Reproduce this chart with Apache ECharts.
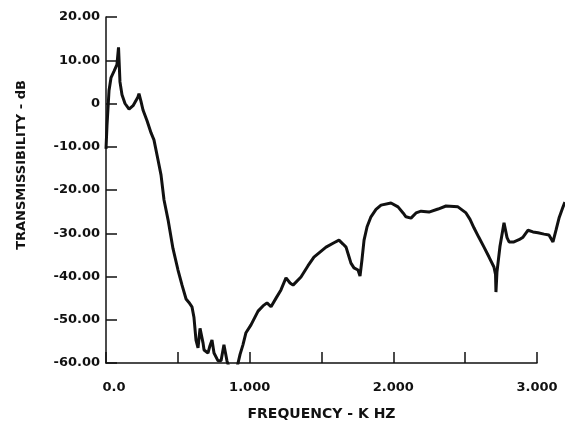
<!DOCTYPE html>
<html>
<head>
<meta charset="utf-8">
<script src="https://cdn.jsdelivr.net/npm/echarts@6/dist/echarts.min.js"></script>
<style>html,body{margin:0;padding:0;background:#fff;}#c{width:565px;height:421px;}</style>
</head>
<body>
<div id="c"></div>
<script>
// Frequency (kHz)
const freq = [0.000,0.007,0.021,0.035,0.056,0.076,0.087,0.097,0.111,0.132,0.160,0.188,0.222,0.229,0.243,0.257,0.285,0.313,0.333,0.361,0.382,0.403,0.431,0.465,0.500,0.528,0.556,0.576,0.597,0.611,0.625,0.639,0.653,0.660,0.674,0.681,0.708,0.722,0.736,0.750,0.778,0.799,0.819,0.840,0.854,0.910,0.931,0.951,0.972,1.007,1.056,1.090,1.118,1.146,1.181,1.215,1.250,1.278,1.299,1.354,1.403,1.444,1.528,1.583,1.618,1.646,1.667,1.688,1.701,1.722,1.750,1.764,1.778,1.792,1.813,1.840,1.875,1.910,1.979,2.028,2.063,2.083,2.118,2.153,2.188,2.243,2.306,2.361,2.444,2.500,2.528,2.556,2.590,2.625,2.660,2.694,2.705,2.708,2.715,2.736,2.764,2.785,2.799,2.833,2.868,2.896,2.931,2.965,3.000,3.042,3.076,3.104,3.125,3.146,3.174,3.187];
// Transmissibility (dB)
const transDb = [-10.5,-5,3,6,7.5,9,13,5,2,0,-1.3,-0.5,1.5,2.3,0.5,-1.5,-4,-6.8,-8.4,-13,-16.5,-22.3,-26.9,-33.5,-38.5,-42,-45.2,-46,-47,-49.5,-54.7,-56.5,-52,-51.9,-55.4,-57,-57.7,-56,-54.7,-57.7,-59.5,-59.5,-55.8,-59.5,-61,-61,-58,-55.8,-53,-51.2,-48,-46.8,-46.1,-47,-45,-43.1,-40.3,-41.5,-42,-40.1,-37.5,-35.5,-33.2,-32.2,-31.6,-32.5,-33.2,-35.5,-36.9,-38,-38.5,-39.9,-36,-31.6,-28.5,-26.2,-24.5,-23.5,-23,-23.9,-25.3,-26.2,-26.5,-25.3,-24.9,-25.1,-24.4,-23.7,-23.9,-25.3,-26.8,-28.8,-31,-33.2,-35.5,-37.8,-39.5,-43.6,-39,-33,-27.6,-31,-32,-32,-31.5,-30.9,-29.3,-29.7,-29.9,-30.2,-30.4,-32,-29.3,-26.5,-23.9,-22.8];
const xTickLabels = {0:'0.0',1:'1.000',2:'2.000',3:'3.000'};
const yTickLabels = {20:'20.00',10:'10.00',0:'0','-10':'-10.00','-20':'-20.00','-30':'-30.00','-40':'-40.00','-50':'-50.00','-60':'-60.00'};

const font = 'DejaVu Sans';
const ink = '#111';
const chart = echarts.init(document.getElementById('c'), null, {renderer:'canvas'});
chart.setOption({
  animation:false,
  backgroundColor:'#fff',
  grid:[
    {left:106,right:28,top:17,bottom:58,containLabel:false,outerBoundsMode:'none'},
    {left:106,right:0,top:17,bottom:58,containLabel:false,outerBoundsMode:'none'}
  ],
  xAxis:[{
    type:'value',gridIndex:0,min:0,max:3,interval:0.5,
    name:'FREQUENCY - K HZ',nameLocation:'middle',nameGap:44,
    nameTextStyle:{fontFamily:font,fontWeight:'bold',fontSize:14,color:ink},
    axisLine:{show:true,onZero:false,lineStyle:{color:ink,width:1.5}},
    axisTick:{show:true,inside:true,length:11,lineStyle:{color:ink,width:1.5}},
    splitLine:{show:false},
    axisLabel:{margin:18,fontFamily:font,fontWeight:'bold',fontSize:13,color:ink,
      formatter:function(v){const k=Math.round(v*1000)/1000;return xTickLabels[k]!==undefined?(k===0?'{z|0.0}':xTickLabels[k]):'';},
      rich:{z:{fontFamily:font,fontWeight:'bold',fontSize:13,color:ink,padding:[0,0,0,16]}}}
  },{
    type:'value',gridIndex:1,min:0,max:3.1875,show:false
  }],
  yAxis:[{
    type:'value',gridIndex:0,min:-60,max:20,interval:10,
    name:'TRANSMISSIBILITY - dB',nameLocation:'middle',nameGap:78,nameRotate:90,
    nameTextStyle:{fontFamily:font,fontWeight:'bold',fontSize:13,color:ink,padding:[0,0,0,50]},
    axisLine:{show:true,onZero:false,lineStyle:{color:ink,width:1.5}},
    axisTick:{show:true,inside:true,length:11,lineStyle:{color:ink,width:1.5}},
    splitLine:{show:false},
    axisLabel:{margin:6,fontFamily:font,fontWeight:'bold',fontSize:13,color:ink,
      formatter:function(v){return yTickLabels[Math.round(v)];}}
  },{
    type:'value',gridIndex:1,min:-60,max:20,show:false
  }],
  series:[{
    type:'line',xAxisIndex:1,yAxisIndex:1,
    data:freq.map((f,i)=>[f,transDb[i]]),
    showSymbol:false,smooth:false,clip:true,
    lineStyle:{color:ink,width:3},
    z:3
  }]
});
</script>
</body>
</html>
